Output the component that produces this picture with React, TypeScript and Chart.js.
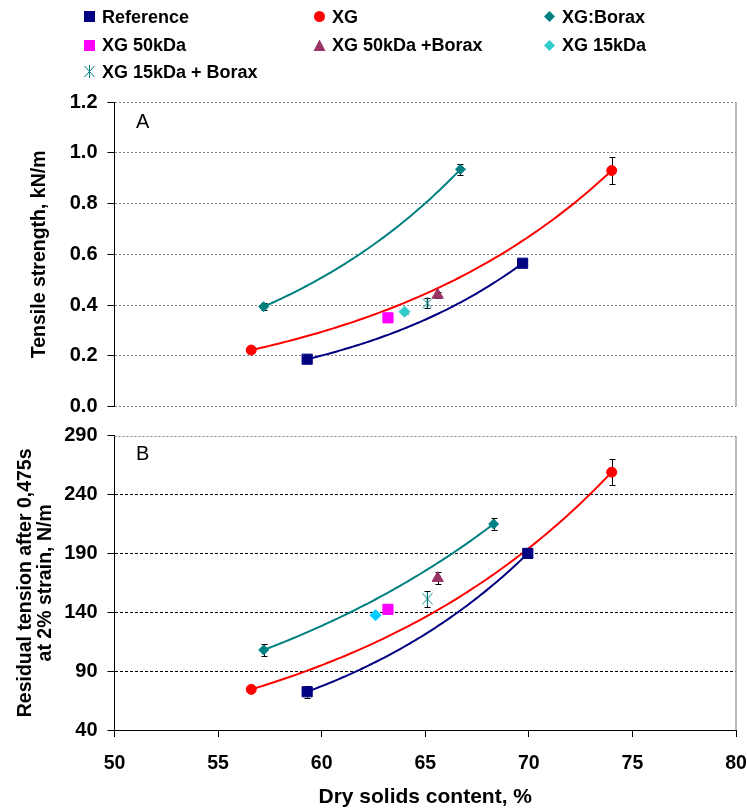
import React, { useEffect, useRef } from 'react';
import { Chart, registerables } from 'chart.js';

Chart.register(...registerables);

const FONT = "'Liberation Sans', Arial, Helvetica, sans-serif";

// ---------- axes ----------
const X_MIN = 50;
const X_MAX = 80;
const X_STEP = 5;
const A_MIN = 0;
const A_MAX = 1.2;
const A_STEP = 0.2;
const B_MIN = 40;
const B_MAX = 290;
const B_STEP = 50;

const xTitle = 'Dry solids content, %';
const aTitle = 'Tensile strength, kN/m';
const bTitle = ['Residual tension after 0,475s', 'at 2% strain, N/m'];

const seriesLabels = [
  'Reference',
  'XG',
  'XG:Borax',
  'XG 50kDa',
  'XG 50kDa +Borax',
  'XG 15kDa',
  'XG 15kDa + Borax',
];

// ---------- panel A : tensile strength ----------
const refA_x = [59.3, 69.7];
const refA_y = [0.187, 0.565];
const refA_err = [0.008, 0.012];

const xgA_x = [56.6, 74.0];
const xgA_y = [0.223, 0.93];
const xgA_err = [0.008, 0.054];

const xgbA_x = [57.2, 66.7];
const xgbA_y = [0.394, 0.935];
const xgbA_err = [0.015, 0.022];

const xg50A_x = [63.2];
const xg50A_y = [0.35];
const xg50A_err = [0.015];

const xg50bA_x = [65.6];
const xg50bA_y = [0.44];
const xg50bA_err = [0.01];

const xg15A_x = [64.0];
const xg15A_y = [0.374];
const xg15A_err = [0.008];

const xg15bA_x = [65.1];
const xg15bA_y = [0.407];
const xg15bA_err = [0.02];

// ---------- panel B : residual tension ----------
const refB_x = [59.3, 69.95];
const refB_y = [72.5, 190];
const refB_err = [5, 3];

const xgB_x = [56.6, 74.0];
const xgB_y = [74.5, 259];
const xgB_err = [1.5, 11];

const xgbB_x = [57.2, 68.3];
const xgbB_y = [108, 215];
const xgbB_err = [5, 5];

const xg50B_x = [63.2];
const xg50B_y = [142.5];
const xg50B_err = [2];

const xg50bB_x = [65.6];
const xg50bB_y = [169];
const xg50bB_err = [5];

const xg15B_x = [62.6];
const xg15B_y = [137.5];
const xg15B_err = [1];

const xg15bB_x = [65.1];
const xg15bB_y = [151.5];
const xg15bB_err = [7];

// ---------- colours ----------
const C_REF = '#000080';
const C_XG = '#FF0000';
const C_XGB = '#008080';
const C_XG50 = '#FF00FF';
const C_XG50B = '#993366';
const C_XG15A = '#33CCCC';
const C_XG15B = '#00CCFF';
const C_XG15BOR = '#008080';

function makeAsterisk(w: number, h: number) {
  const c = document.createElement('canvas');
  c.width = w;
  c.height = h;
  const g = c.getContext('2d')!;
  g.strokeStyle = C_XG15BOR;
  g.lineWidth = 1;
  g.beginPath();
  g.moveTo(0.5, 1.5);
  g.lineTo(w - 0.5, h - 1.5);
  g.moveTo(w - 0.5, 1.5);
  g.lineTo(0.5, h - 1.5);
  g.moveTo(w / 2, 0);
  g.lineTo(w / 2, h);
  g.stroke();
  return c;
}

function ds(label: string, xs: number[], ys: number[], errs: number[], style: any, trend = false) {
  return {
    label,
    data: xs.map((x, i) => ({ x, y: ys[i] })),
    errors: errs,
    trend,
    trendColor: style.borderColor,
    showLine: false,
    borderWidth: 1,
    ...style,
  };
}

const trendPlugin = {
  id: 'trend',
  beforeDatasetsDraw(chart: any) {
    const { ctx, scales } = chart;
    const xs = scales.x;
    const ys = scales.y;
    ctx.save();
    ctx.beginPath();
    ctx.rect(chart.chartArea.left, chart.chartArea.top, chart.chartArea.width, chart.chartArea.height);
    ctx.clip();
    chart.data.datasets.forEach((d: any) => {
      if (!d.trend) return;
      const pts = d.data;
      const n = pts.length;
      let sx = 0, sy = 0, sxx = 0, sxy = 0;
      pts.forEach((p: any) => {
        const ly = Math.log(p.y);
        sx += p.x; sy += ly; sxx += p.x * p.x; sxy += p.x * ly;
      });
      const b = (n * sxy - sx * sy) / (n * sxx - sx * sx);
      const a = (sy - b * sx) / n;
      const x0 = Math.min(...pts.map((p: any) => p.x));
      const x1 = Math.max(...pts.map((p: any) => p.x));
      ctx.strokeStyle = d.trendColor;
      ctx.lineWidth = 2;
      ctx.setLineDash([]);
      ctx.beginPath();
      const N = 80;
      for (let i = 0; i <= N; i++) {
        const xv = x0 + ((x1 - x0) * i) / N;
        const yv = Math.exp(a + b * xv);
        const px = xs.getPixelForValue(xv);
        const py = ys.getPixelForValue(yv);
        if (i === 0) ctx.moveTo(px, py);
        else ctx.lineTo(px, py);
      }
      ctx.stroke();
    });
    ctx.restore();

    // error bars
    ctx.save();
    ctx.strokeStyle = '#000';
    ctx.lineWidth = 1;
    ctx.setLineDash([]);
    chart.data.datasets.forEach((d: any) => {
      if (!d.errors) return;
      d.data.forEach((p: any, i: number) => {
        const e = d.errors[i];
        if (!e) return;
        const px = Math.round(xs.getPixelForValue(p.x)) + 0.5;
        const pTop = Math.round(ys.getPixelForValue(p.y + e)) + 0.5;
        const pBot = Math.round(ys.getPixelForValue(p.y - e)) + 0.5;
        ctx.beginPath();
        ctx.moveTo(px, pTop);
        ctx.lineTo(px, pBot);
        ctx.moveTo(px - 3, pTop);
        ctx.lineTo(px + 3, pTop);
        ctx.moveTo(px - 3, pBot);
        ctx.lineTo(px + 3, pBot);
        ctx.stroke();
      });
    });
    ctx.restore();
  },
};

const framePlugin = {
  id: 'frame',
  beforeDatasetsDraw(chart: any, _args: any, opts: any) {
    const { ctx, chartArea: ca } = chart;
    ctx.save();
    ctx.strokeStyle = '#A6A6A6';
    ctx.lineWidth = 1.5;
    ctx.setLineDash([]);
    ctx.beginPath();
    ctx.moveTo(ca.right, ca.top);
    ctx.lineTo(ca.right, ca.bottom);
    ctx.stroke();
    if (opts && opts.topDotted) {
      ctx.strokeStyle = '#808080';
      ctx.lineWidth = 1;
      ctx.setLineDash([2, 2]);
      ctx.beginPath();
      const y = Math.round(ca.top) + 0.5;
      ctx.moveTo(ca.left, y);
      ctx.lineTo(ca.right, y);
      ctx.stroke();
    }
    ctx.restore();
  },
};

const AXIS_W = 114.5;

function yScale(min: number, max: number, step: number, title: any, titlePad: number, gridColor: any, dash: number[], fmt: (v: number) => string) {
  return {
    type: 'linear',
    min,
    max,
    afterFit: (s: any) => {
      s.width = AXIS_W;
      s.paddingTop = 0;
      s.paddingBottom = 0;
      s.paddingLeft = 0;
      s.paddingRight = 0;
    },
    ticks: {
      stepSize: step,
      callback: (v: any) => fmt(Number(v)),
      font: { family: FONT, size: 20, weight: 'bold' },
      color: '#000',
      padding: 10,
    },
    grid: {
      color: gridColor,
      lineWidth: 1,
      tickColor: '#000',
      tickLength: 7,
      tickBorderDash: [],
      drawTicks: true,
    },
    border: { display: true, color: '#000', width: 1, dash },
    title: {
      display: true,
      text: title,
      color: '#000',
      font: { family: FONT, size: 19.5, weight: 'bold', lineHeight: '20px' },
      padding: { top: titlePad, bottom: 0 },
    },
  };
}

export default function App() {
  const refA = useRef<HTMLCanvasElement>(null);
  const refB = useRef<HTMLCanvasElement>(null);

  useEffect(() => {
    const starA = makeAsterisk(10, 12);
    const starB = makeAsterisk(11, 14);

    const dsA = [
      ds(seriesLabels[0], refA_x, refA_y, refA_err, { pointStyle: 'rect', pointRadius: 7.2, backgroundColor: C_REF, borderColor: C_REF }, true),
      ds(seriesLabels[1], xgA_x, xgA_y, xgA_err, { pointStyle: 'circle', pointRadius: 5, backgroundColor: C_XG, borderColor: C_XG }, true),
      ds(seriesLabels[2], xgbA_x, xgbA_y, xgbA_err, { pointStyle: 'rectRot', pointRadius: 5, backgroundColor: C_XGB, borderColor: C_XGB }, true),
      ds(seriesLabels[3], xg50A_x, xg50A_y, xg50A_err, { pointStyle: 'rect', pointRadius: 7.2, backgroundColor: C_XG50, borderColor: C_XG50 }),
      ds(seriesLabels[4], xg50bA_x, xg50bA_y, xg50bA_err, { pointStyle: 'triangle', pointRadius: 6.5, backgroundColor: C_XG50B, borderColor: C_XG50B }),
      ds(seriesLabels[5], xg15A_x, xg15A_y, xg15A_err, { pointStyle: 'rectRot', pointRadius: 5.5, backgroundColor: C_XG15A, borderColor: C_XG15A }),
      ds(seriesLabels[6], xg15bA_x, xg15bA_y, xg15bA_err, { pointStyle: starA, pointRadius: 6, backgroundColor: C_XG15BOR, borderColor: C_XG15BOR }),
    ];
    const dsB = [
      ds(seriesLabels[0], refB_x, refB_y, refB_err, { pointStyle: 'rect', pointRadius: 7.2, backgroundColor: C_REF, borderColor: C_REF }, true),
      ds(seriesLabels[1], xgB_x, xgB_y, xgB_err, { pointStyle: 'circle', pointRadius: 5, backgroundColor: C_XG, borderColor: C_XG }, true),
      ds(seriesLabels[2], xgbB_x, xgbB_y, xgbB_err, { pointStyle: 'rectRot', pointRadius: 5, backgroundColor: C_XGB, borderColor: C_XGB }, true),
      ds(seriesLabels[3], xg50B_x, xg50B_y, xg50B_err, { pointStyle: 'rect', pointRadius: 7.2, backgroundColor: C_XG50, borderColor: C_XG50 }),
      ds(seriesLabels[4], xg50bB_x, xg50bB_y, xg50bB_err, { pointStyle: 'triangle', pointRadius: 6.5, backgroundColor: C_XG50B, borderColor: C_XG50B }),
      ds(seriesLabels[5], xg15B_x, xg15B_y, xg15B_err, { pointStyle: 'rectRot', pointRadius: 5.5, backgroundColor: C_XG15B, borderColor: C_XG15B }),
      ds(seriesLabels[6], xg15bB_x, xg15bB_y, xg15bB_err, { pointStyle: starB, pointRadius: 7, backgroundColor: C_XG15BOR, borderColor: C_XG15BOR }),
    ];

    const common = {
      responsive: false,
      maintainAspectRatio: false,
      animation: false,
      events: [],
    };

    const chartA = new Chart(refA.current as HTMLCanvasElement, {
      type: 'scatter',
      data: { datasets: dsA as any },
      plugins: [trendPlugin, framePlugin],
      options: {
        ...common,
        layout: { padding: { left: 0, top: 102, right: 11, bottom: 13.3 } },
        plugins: { legend: { display: false }, tooltip: { enabled: false }, frame: { topDotted: false } } as any,
        scales: {
          x: { type: 'linear', display: false, min: X_MIN, max: X_MAX },
          y: yScale(A_MIN, A_MAX, A_STEP, aTitle, 29.5, '#808080', [2, 2], (v) => v.toFixed(1)) as any,
        },
      } as any,
    });

    const chartB = new Chart(refB.current as HTMLCanvasElement, {
      type: 'scatter',
      data: { datasets: dsB as any },
      plugins: [trendPlugin, framePlugin],
      options: {
        ...common,
        layout: { padding: { left: 0, top: 15.7, right: 11, bottom: 0 } },
        plugins: { legend: { display: false }, tooltip: { enabled: false }, frame: { topDotted: true } } as any,
        scales: {
          x: {
            type: 'linear',
            min: X_MIN,
            max: X_MAX,
            afterFit: (s: any) => {
              s.height = 78;
              s.paddingTop = 0;
              s.paddingBottom = 0;
              s.paddingLeft = 0;
              s.paddingRight = 0;
            },
            ticks: {
              stepSize: X_STEP,
              font: { family: FONT, size: 19.5, weight: 'bold' },
              color: '#000',
              padding: 15,
              maxRotation: 0,
            },
            grid: { drawOnChartArea: false, drawTicks: true, tickLength: 7, tickColor: '#000', color: '#000', tickBorderDash: [] },
            border: { display: true, color: '#000', width: 1 },
            title: {
              display: true,
              text: xTitle,
              color: '#000',
              font: { family: FONT, size: 21, weight: 'bold', lineHeight: 1 },
              padding: { top: 0, bottom: 0 },
            },
          },
          y: yScale(
            B_MIN,
            B_MAX,
            B_STEP,
            bTitle,
            16,
            (c: any) => (c.tick && c.tick.value === B_MAX ? 'rgba(0,0,0,0)' : '#000'),
            [3, 2],
            (v) => String(Math.round(v))
          ) as any,
        },
      } as any,
    });

    return () => {
      chartA.destroy();
      chartB.destroy();
    };
  }, []);

  const legendFont: React.CSSProperties = {
    position: 'absolute',
    fontFamily: FONT,
    fontWeight: 'bold',
    fontSize: 18,
    lineHeight: '18px',
    height: 18,
    whiteSpace: 'nowrap',
    color: '#000',
  };

  const rows = [16.7, 45, 71.7];
  const colMarker = [89.5, 319, 549];
  const colText = [102, 332, 562];

  const marker = (kind: string, color: string) => {
    switch (kind) {
      case 'square':
        return <rect x={1} y={1} width={11} height={11} fill={color} />;
      case 'circle':
        return <circle cx={6.5} cy={6.5} r={5.5} fill={color} />;
      case 'diamond':
        return <polygon points="6.5,1 12,6.5 6.5,12 1,6.5" fill={color} />;
      case 'triangle':
        return <polygon points="6.5,0.5 12.5,12 0.5,12" fill={color} />;
      default:
        return (
          <g stroke={color} strokeWidth={1}>
            <line x1={1.5} y1={1} x2={11.5} y2={12} />
            <line x1={11.5} y1={1} x2={1.5} y2={12} />
            <line x1={6.5} y1={0} x2={6.5} y2={13} />
          </g>
        );
    }
  };

  const items = [
    { kind: 'square', color: C_REF, r: 0, c: 0 },
    { kind: 'circle', color: C_XG, r: 0, c: 1 },
    { kind: 'diamond', color: C_XGB, r: 0, c: 2 },
    { kind: 'square', color: C_XG50, r: 1, c: 0 },
    { kind: 'triangle', color: C_XG50B, r: 1, c: 1 },
    { kind: 'diamond', color: C_XG15A, r: 1, c: 2 },
    { kind: 'star', color: C_XG15BOR, r: 2, c: 0 },
  ];

  return (
    <div style={{ position: 'absolute', left: 0, top: 0, width: 747, height: 808, background: '#fff', overflow: 'hidden' }}>
      <canvas ref={refA} width={747} height={420} style={{ position: 'absolute', left: 0, top: 0 }} />
      <canvas ref={refB} width={747} height={388} style={{ position: 'absolute', left: 0, top: 420 }} />
      {items.map((it, i) => (
        <React.Fragment key={i}>
          <svg
            width={13}
            height={13}
            style={{ position: 'absolute', left: colMarker[it.c] - 6.5, top: rows[it.r] - 6.5 }}
          >
            {marker(it.kind, it.color)}
          </svg>
          <div style={{ ...legendFont, left: colText[it.c], top: rows[it.r] - 9 }}>{seriesLabels[i]}</div>
        </React.Fragment>
      ))}
      <div style={{ position: 'absolute', left: 136, top: 111, fontFamily: FONT, fontSize: 20, lineHeight: '20px' }}>A</div>
      <div style={{ position: 'absolute', left: 136, top: 443, fontFamily: FONT, fontSize: 20, lineHeight: '20px' }}>B</div>
    </div>
  );
}
